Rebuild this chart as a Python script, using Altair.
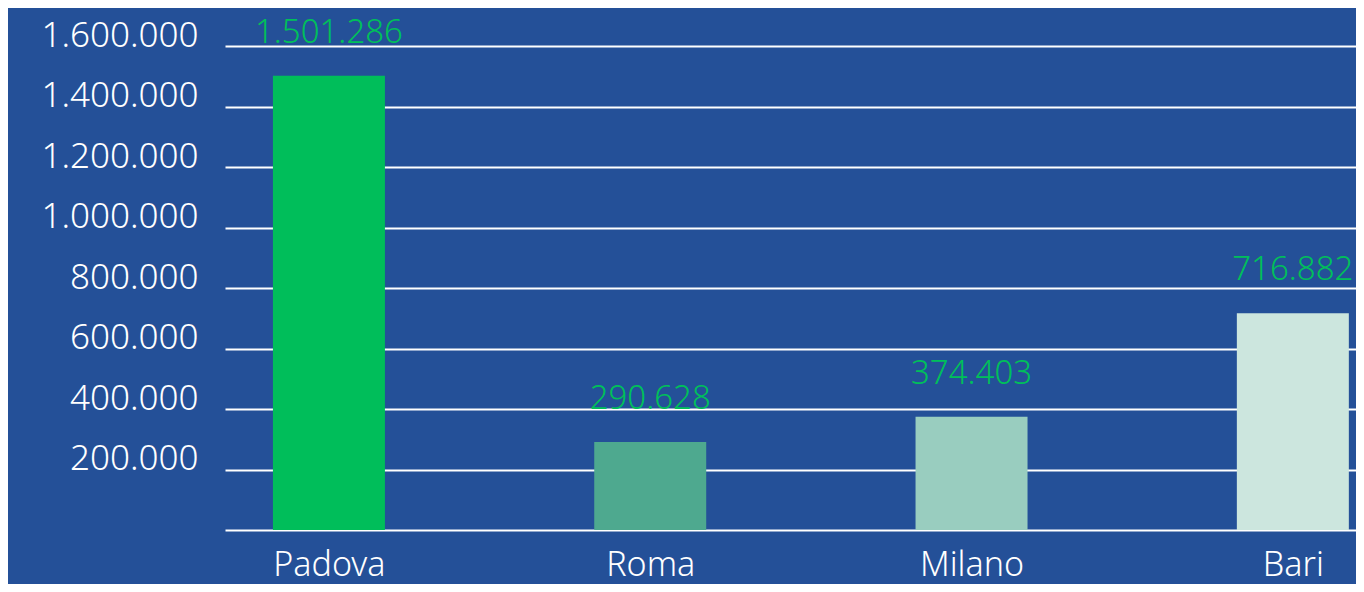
import altair as alt
import pandas as pd

cities = ["Padova", "Roma", "Milano", "Bari"]
values = [1501286, 290628, 374403, 716882]
colors = ["#00be5a", "#4ea98f", "#99cdbf", "#cce6de"]
y_ticks = [0, 200000, 400000, 600000, 800000, 1000000, 1200000, 1400000, 1600000]

df = pd.DataFrame({"city": cities, "value": values, "color": colors})

FONT = "Noto Sans"
FS = 34

x_enc = alt.X(
    "city:N",
    sort=cities,
    scale=alt.Scale(type="point", padding=0.26, align=0.622),
    axis=alt.Axis(
        title=None, domain=False, ticks=False, tickSize=0, grid=False,
        labelAngle=0, labelFont=FONT, labelFontSize=FS, labelColor="white",
        labelBaseline="alphabetic", labelPadding=45, labelFontWeight=300,
    ),
)
y_enc = alt.Y(
    "value:Q",
    scale=alt.Scale(domain=[0, 1600000], nice=False),
    axis=alt.Axis(
        title=None, domain=False, ticks=False, tickSize=0, values=y_ticks,
        grid=True, gridColor="white", gridWidth=2, gridOpacity=1,
        labelFont=FONT, labelFontSize=35, labelColor="white", labelFontWeight=300,
        labelBaseline="alphabetic", labelPadding=27,
        labelExpr="datum.value == 0 ? '' : replace(replace(format(datum.value, ','), ',', '.'), ',', '.')",
    ),
)

bars = alt.Chart(df).mark_bar(size=112).encode(
    x=x_enc,
    y=y_enc,
    color=alt.Color("color:N", scale=None, legend=None),
)

labels = alt.Chart(df).transform_calculate(
    lbl="replace(replace(format(datum.value, ','), ',', '.'), ',', '.')"
).mark_text(
    font=FONT, fontSize=33, fontWeight=300, color="#00c05a",
    baseline="alphabetic", align="center", dy=-33,
).encode(
    x=alt.X("city:N", sort=cities),
    y=alt.Y("value:Q"),
    text="lbl:N",
)

chart = alt.layer(bars, labels).properties(
    width=1131, height=484,
    background="#245098",
    autosize=alt.AutoSizeParams(type="none"),
    padding={"left": 217, "top": 38, "right": 0, "bottom": 54},
).configure_view(stroke=None)

chart.save("out.html", embed_options={"renderer": "svg", "actions": False})
